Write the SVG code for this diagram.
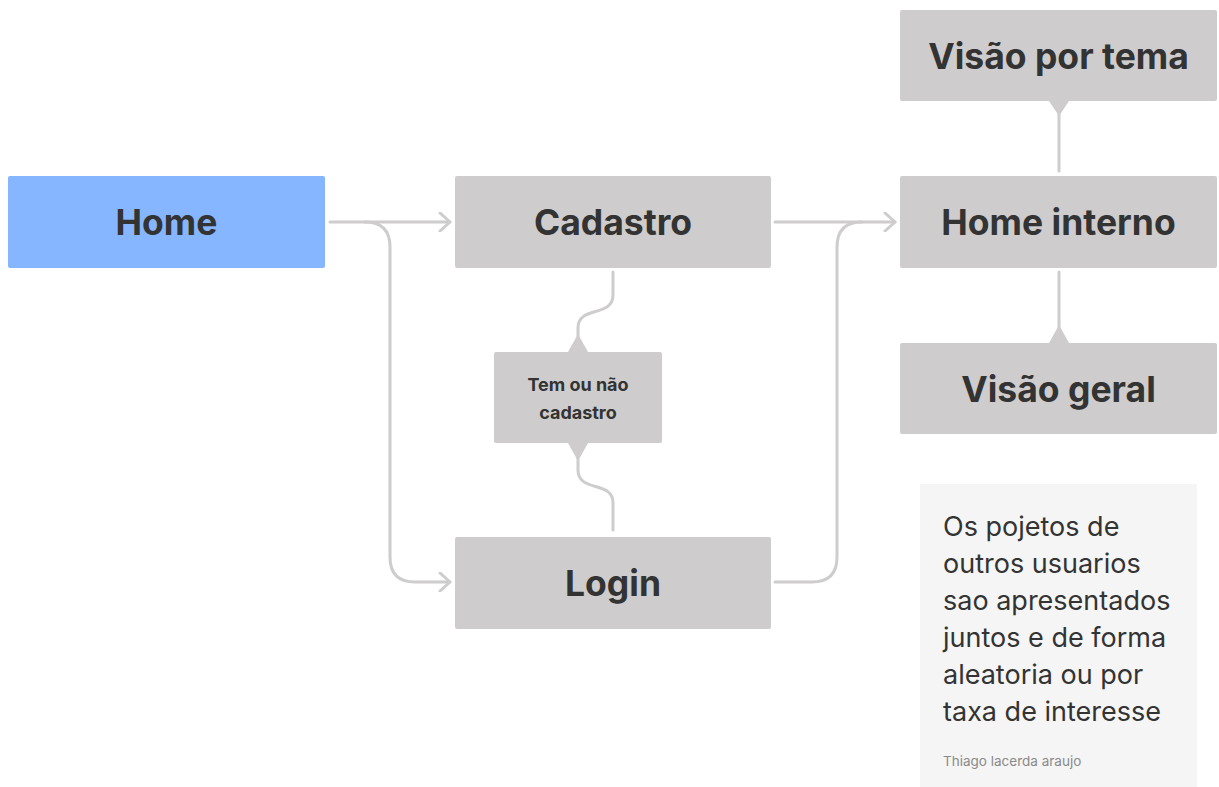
<svg xmlns="http://www.w3.org/2000/svg" width="1219" height="787" viewBox="0 0 1219 787">
<style>
.node{fill:#cecccc;}
.lbl{font-family:Inter,"Liberation Sans",sans-serif;font-weight:700;fill:#333333;text-anchor:middle;}
.big{font-size:35.5px;}
.small{font-size:18px;}
.con{fill:none;stroke:#cecccc;stroke-width:3;stroke-linecap:round;stroke-linejoin:round;}
.tri{fill:#cecccc;}
.note{font-family:Inter,"Liberation Sans",sans-serif;font-size:27px;fill:#333333;}
</style>
<defs>
<marker id="arr" markerWidth="16" markerHeight="20" refX="13" refY="10" orient="auto" markerUnits="userSpaceOnUse">
<path d="M3,1 L13,10 L3,19" fill="none" stroke="#cecccc" stroke-width="3" stroke-linecap="round" stroke-linejoin="round"/>
</marker>
</defs>
<rect width="1219" height="787" fill="#ffffff"/>
<g id="connectors">
<path class="con" d="M330,222 L450,222" marker-end="url(#arr)"/>
<path class="con" d="M365,222 Q390,222 390,247 L390,557 Q390,582 415,582 L450,582" marker-end="url(#arr)"/>
<path class="con" d="M775,222 L895,222" marker-end="url(#arr)"/>
<path class="con" d="M775,582 L812,582 Q837,582 837,557 L837,247 Q837,222 862,222"/>
<path class="con" d="M613,272 L613,295 C613,318 578,305 578,328 L578,340"/>
<path class="tri" d="M568,352 L588,352 L578,334 Z"/>
<path class="tri" d="M568,443 L588,443 L578,461 Z"/>
<path class="con" d="M578,455 L578,470 C578,493 613,480 613,503 L613,530"/>
<path class="tri" d="M1049,101 L1069,101 L1059,116 Z"/>
<path class="con" d="M1059,108 L1059,171"/>
<path class="con" d="M1059,272 L1059,335"/>
<path class="tri" d="M1049,343 L1069,343 L1059,325 Z"/>
</g>
<g id="home">
<rect x="8" y="176" width="317" height="92" rx="2" fill="#85b6ff"/>
<text class="lbl big" x="166.5" y="235">Home</text>
</g>
<g id="cadastro">
<rect class="node" x="455" y="176" width="316" height="92" rx="2"/>
<text class="lbl big" x="613" y="235">Cadastro</text>
</g>
<g id="login">
<rect class="node" x="455" y="537" width="316" height="92" rx="2"/>
<text class="lbl big" x="613" y="596">Login</text>
</g>
<g id="tem-ou-nao">
<rect class="node" x="494" y="352" width="168" height="91" rx="2"/>
<text class="lbl small" x="578" y="391">Tem ou não</text>
<text class="lbl small" x="578" y="419">cadastro</text>
</g>
<g id="home-interno">
<rect class="node" x="900" y="176" width="317" height="92" rx="2"/>
<text class="lbl big" x="1058.5" y="235">Home interno</text>
</g>
<g id="visao-por-tema">
<rect class="node" x="900" y="10" width="317" height="91" rx="2"/>
<text class="lbl big" x="1058.5" y="69">Visão por tema</text>
</g>
<g id="visao-geral">
<rect class="node" x="900" y="343" width="317" height="91" rx="2"/>
<text class="lbl big" x="1058.5" y="402">Visão geral</text>
</g>
<g id="sticky-note">
<rect x="920" y="484" width="277" height="303" fill="#f5f5f5"/>
<text class="note" x="943" y="536">Os pojetos de</text>
<text class="note" x="943" y="573">outros usuarios</text>
<text class="note" x="943" y="610">sao apresentados</text>
<text class="note" x="943" y="647">juntos e de forma</text>
<text class="note" x="943" y="684">aleatoria ou por</text>
<text class="note" x="943" y="721">taxa de interesse</text>
<text x="943" y="766" font-family="Inter,'Liberation Sans',sans-serif" font-size="13.5" fill="#8a8a8a">Thiago lacerda araujo</text>
</g>
</svg>
